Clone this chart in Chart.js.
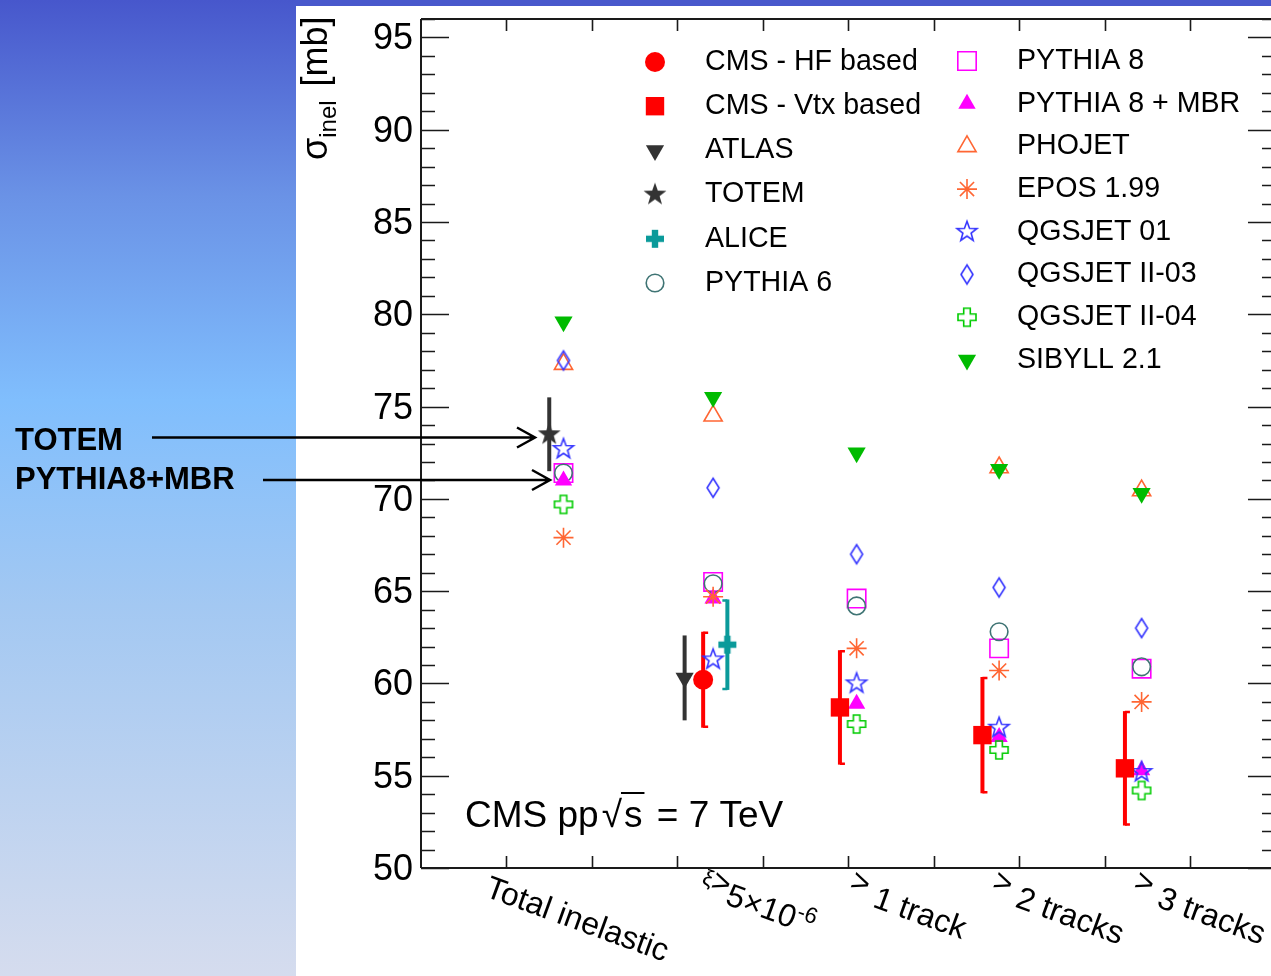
<!DOCTYPE html>
<html>
<head>
<meta charset="utf-8">
<script src="https://cdn.jsdelivr.net/npm/chart.js@4.4.1/dist/chart.umd.min.js"></script>
<style>
  html, body { margin: 0; padding: 0; overflow: hidden; background: #fff; }
  canvas { display: block; }
</style>
</head>
<body>
<canvas id="chart" width="1271" height="976"></canvas>
<script>
// ---- data -------------------------------------------------------------
// ^{..} = small raised run, ~{..} = raised run at full size
const categories = ['Total inelastic', '^{ξ}~{>}5×10^{-6}', '~{>} 1 track', '~{>} 2 tracks', '~{>} 3 tracks'];
const yTickValues = [50, 55, 60, 65, 70, 75, 80, 85, 90, 95];

// measurements (mb) and their total uncertainties
const cmsHF       = [null, 60.2, null, null, null];
const cmsHFErr    = [null, 2.6,  null, null, null];
const cmsVtx      = [null, null, 58.7, 57.2, 55.4];
const cmsVtxErr   = [null, null, 3.1,  3.15, 3.1];
const atlas       = [null, 60.3, null, null, null];
const atlasErr    = [null, 2.3,  null, null, null];
const totem       = [73.5, null, null, null, null];
const totemErr    = [2.0,  null, null, null, null];
const alice       = [null, 62.1, null, null, null];
const aliceErr    = [null, 2.45, null, null, null];

// model predictions (mb)
const pythia6     = [71.4, 65.4, 64.2, 62.8, 60.9];
const pythia8     = [71.4, 65.5, 64.6, 61.9, 60.8];
const pythia8mbr  = [71.0, 64.6, 58.9, 57.1, 55.3];
const phojet      = [77.3, 74.5, null, 71.7, 70.45];
const epos199     = [67.9, 64.7, 61.9, 60.7, 59.0];
const qgsjet01    = [72.7, 61.3, 60.0, 57.6, 55.2];
const qgsjetII03  = [77.5, 70.6, 67.0, 65.2, 63.0];
const qgsjetII04  = [69.7, null, 57.8, 56.4, 54.2];
const sibyll21    = [79.6, 75.5, 72.5, 71.6, 70.3];

// ---- layout / style ---------------------------------------------------
const FONT = "'Liberation Sans', Arial, Helvetica, sans-serif";
// side-by-side offsets (in category units) so overlapping entries stay readable
const modelShift = [0, 0.05, 0.057, 0.057, 0.057];
const dodge = { totem: -0.1, atlas: -0.15, cmsHF: -0.02, alice: 0.15, cmsVtx: -0.06 };

const COL = {
  red: '#ff0000', dark: '#333333', teal: '#0a9a9a', slate: '#3f7474',
  magenta: '#ff00ff', orange: '#ff6633', blue: '#3535ff', green: '#00cc00', sibyll: '#00bb00'
};

function makeMarker(size, paint) {
  const c = document.createElement('canvas');
  c.width = size; c.height = size;
  const g = c.getContext('2d');
  g.translate(size / 2, size / 2);
  paint(g);
  return c;
}
function starPath(g, R, r) {
  g.beginPath();
  for (let i = 0; i < 10; i++) {
    const a = -Math.PI / 2 + i * Math.PI / 5;
    const q = i % 2 ? r : R;
    g.lineTo(q * Math.cos(a), q * Math.sin(a));
  }
  g.closePath();
}
const markers = {
  openStar: makeMarker(26, g => { starPath(g, 10.5, 4.3); g.strokeStyle = COL.blue; g.lineWidth = 1.6; g.stroke(); }),
  fullStar: makeMarker(28, g => { starPath(g, 12, 4.8); g.fillStyle = COL.dark; g.fill(); }),
  openCross: makeMarker(24, g => {
    const a = 9, b = 3.3;
    g.beginPath();
    g.moveTo(-b, -a); g.lineTo(b, -a); g.lineTo(b, -b); g.lineTo(a, -b); g.lineTo(a, b); g.lineTo(b, b);
    g.lineTo(b, a); g.lineTo(-b, a); g.lineTo(-b, b); g.lineTo(-a, b); g.lineTo(-a, -b); g.lineTo(-b, -b);
    g.closePath();
    g.strokeStyle = COL.green; g.lineWidth = 1.6; g.stroke();
  }),
  fullPlus: makeMarker(24, g => { g.fillStyle = COL.teal; g.fillRect(-9, -3.2, 18, 6.4); g.fillRect(-3.2, -9, 6.4, 18); }),
  diamond: makeMarker(24, g => {
    g.beginPath(); g.moveTo(0, -9.5); g.lineTo(6, 0); g.lineTo(0, 9.5); g.lineTo(-6, 0); g.closePath();
    g.strokeStyle = COL.blue; g.lineWidth = 1.6; g.stroke();
  })
};

function toPoints(values, errors, shift) {
  const out = [];
  values.forEach((v, i) => {
    if (v == null) return;
    const s = Array.isArray(shift) ? shift[i] : shift;
    out.push({ x: i + 1 + s, y: v, err: errors ? errors[i] : null });
  });
  return out;
}
function series(label, values, errors, shift, style) {
  return Object.assign({ label, data: toPoints(values, errors, shift), showLine: false }, style);
}
const filled = (c) => ({ pointBackgroundColor: c, pointBorderColor: c, pointBorderWidth: 0 });
const open = (c) => ({ pointBackgroundColor: 'rgba(0,0,0,0)', pointBorderColor: c, pointBorderWidth: 1.6 });

const datasets = [
  series('CMS - HF based', cmsHF, cmsHFErr, dodge.cmsHF,
    Object.assign({ pointStyle: 'circle', pointRadius: 10, order: 0, errColor: COL.red, errCap: 1 }, filled(COL.red))),
  series('CMS - Vtx based', cmsVtx, cmsVtxErr, dodge.cmsVtx,
    Object.assign({ pointStyle: 'rect', pointRadius: 13, order: 0, errColor: COL.red, errCap: 1 }, filled(COL.red))),
  series('ATLAS', atlas, atlasErr, dodge.atlas,
    Object.assign({ pointStyle: 'triangle', pointRotation: 180, pointRadius: 10.5, order: 0, errColor: COL.dark }, filled(COL.dark))),
  series('TOTEM', totem, totemErr, dodge.totem,
    Object.assign({ pointStyle: markers.fullStar, pointRadius: 12, order: 0, errColor: COL.dark }, filled(COL.dark))),
  series('ALICE', alice, aliceErr, dodge.alice,
    Object.assign({ pointStyle: markers.fullPlus, pointRadius: 9, order: 0, errColor: COL.teal, errCap: -1 }, filled(COL.teal))),
  series('PYTHIA 6', pythia6, null, modelShift,
    Object.assign({ pointStyle: 'circle', pointRadius: 8.8, order: 7 }, open(COL.slate))),
  series('PYTHIA 8', pythia8, null, modelShift,
    Object.assign({ pointStyle: 'rect', pointRadius: 13, order: 8 }, open(COL.magenta))),
  series('PYTHIA 8 + MBR', pythia8mbr, null, modelShift,
    Object.assign({ pointStyle: 'triangle', pointRadius: 10, order: 5 }, filled(COL.magenta))),
  series('PHOJET', phojet, null, modelShift,
    Object.assign({ pointStyle: 'triangle', pointRadius: 10.5, order: 6 }, open(COL.orange))),
  series('EPOS 1.99', epos199, null, modelShift,
    Object.assign({ pointStyle: 'star', pointRadius: 10, order: 3 }, open(COL.orange))),
  series('QGSJET 01', qgsjet01, null, modelShift,
    Object.assign({ pointStyle: markers.openStar, pointRadius: 10, order: 2 }, open(COL.blue))),
  series('QGSJET II-03', qgsjetII03, null, modelShift,
    Object.assign({ pointStyle: markers.diamond, pointRadius: 9, order: 4 }, open(COL.blue))),
  series('QGSJET II-04', qgsjetII04, null, modelShift,
    Object.assign({ pointStyle: markers.openCross, pointRadius: 9, order: 4 }, open(COL.green))),
  series('SIBYLL 2.1', sibyll21, null, modelShift,
    Object.assign({ pointStyle: 'triangle', pointRotation: 180, pointRadius: 10.5, order: 1 }, filled(COL.sibyll)))
];

// ---- plugins ------------------------------------------------------------
const backdrop = {
  id: 'backdrop',
  beforeDraw(chart) {
    const ctx = chart.ctx, W = chart.width, H = chart.height;
    ctx.save();
    ctx.fillStyle = '#ffffff';
    ctx.fillRect(0, 0, W, H);
    const gr = ctx.createLinearGradient(0, 0, 0, H);
    gr.addColorStop(0, '#4757cc');
    gr.addColorStop(0.2, '#6a92e6');
    gr.addColorStop(0.41, '#80befd');
    gr.addColorStop(0.62, '#a3c8f2');
    gr.addColorStop(1, '#d5dcee');
    ctx.fillStyle = gr;
    ctx.fillRect(0, 0, 296, H);
    ctx.fillStyle = '#4858cc';
    ctx.fillRect(296, 0, W - 296, 6);
    ctx.restore();
  }
};

const frame = {
  id: 'frame',
  beforeDatasetsDraw(chart) {
    const { ctx, chartArea: a, scales: { x, y } } = chart;
    const xl = x.getPixelForValue(0), xr = x.getPixelForValue(6);
    ctx.save();
    ctx.strokeStyle = '#1a1a1a';
    ctx.lineWidth = 2;
    ctx.beginPath();
    ctx.moveTo(xl, a.top); ctx.lineTo(xr, a.top);
    ctx.moveTo(xl, a.top); ctx.lineTo(xl, a.bottom);
    ctx.moveTo(xl, a.bottom); ctx.lineTo(xr, a.bottom);
    ctx.stroke();
    ctx.lineWidth = 1.6;
    ctx.beginPath();
    for (let v = 50; v <= 96; v++) {
      const py = Math.round(y.getPixelForValue(v)) + 0.5;
      const len = v % 5 === 0 ? 28 : 14;
      ctx.moveTo(xl, py); ctx.lineTo(xl + len, py);
      ctx.moveTo(xr, py); ctx.lineTo(xr - len, py);
    }
    for (let k = 1; k < 10; k++) {
      const px = Math.round(x.getPixelForValue(k * 0.6)) + 0.5;
      ctx.moveTo(px, a.bottom); ctx.lineTo(px, a.bottom - 12);
      ctx.moveTo(px, a.top); ctx.lineTo(px, a.top + 12);
    }
    ctx.stroke();
    ctx.restore();
  }
};

const errorBars = {
  id: 'errorBars',
  beforeDatasetsDraw(chart) {
    const ctx = chart.ctx, ys = chart.scales.y;
    chart.data.datasets.forEach((ds, di) => {
      if (!ds.errColor) return;
      const meta = chart.getDatasetMeta(di);
      meta.data.forEach((el, i) => {
        const p = ds.data[i];
        if (p.err == null) return;
        const top = ys.getPixelForValue(p.y + p.err);
        const bot = ys.getPixelForValue(p.y - p.err);
        ctx.save();
        ctx.strokeStyle = ds.errColor;
        ctx.lineWidth = 4;
        ctx.beginPath();
        ctx.moveTo(el.x, top); ctx.lineTo(el.x, bot);
        ctx.stroke();
        if (ds.errCap) {
          ctx.lineWidth = 2.5;
          ctx.beginPath();
          ctx.moveTo(el.x, top + 1); ctx.lineTo(el.x + ds.errCap * 5, top + 1);
          ctx.moveTo(el.x, bot - 1); ctx.lineTo(el.x + ds.errCap * 5, bot - 1);
          ctx.stroke();
        }
        ctx.restore();
      });
    });
  }
};

// rich text runs: ^{..} small raised, ~{..} full-size raised
function parseRich(s) {
  const parts = [];
  const re = /\^\{([^}]*)\}|~\{([^}]*)\}|([^^~]+)/g;
  let m;
  while ((m = re.exec(s))) {
    if (m[1] !== undefined) parts.push({ t: m[1], scale: 0.7, rise: 0.36 });
    else if (m[2] !== undefined) parts.push({ t: m[2], scale: 1, rise: 0.27 });
    else parts.push({ t: m[3], scale: 1, rise: 0 });
  }
  return parts;
}
function drawRich(ctx, text, x, y, angleDeg, size) {
  ctx.save();
  ctx.translate(x, y);
  ctx.rotate(angleDeg * Math.PI / 180);
  ctx.textAlign = 'left';
  ctx.textBaseline = 'alphabetic';
  let cx = 0;
  for (const p of parseRich(text)) {
    ctx.font = `${size * p.scale}px ${FONT}`;
    ctx.fillText(p.t, cx, -size * p.rise);
    cx += ctx.measureText(p.t).width;
  }
  ctx.restore();
}

// where each rotated category label starts, relative to its category (px)
const labelStart = [[-80, 28], [-9, 26], [-3, 29], [-3, 29], [-4, 29]];

const texts = {
  id: 'texts',
  afterDraw(chart) {
    const { ctx, chartArea: a, scales: { x, y } } = chart;
    ctx.save();
    ctx.fillStyle = '#000';

    // category labels along the bottom
    categories.forEach((c, i) => {
      const px = x.getPixelForValue(i + 1);
      drawRich(ctx, c, px + labelStart[i][0], a.bottom + labelStart[i][1], 20, 32);
    });

    // y-axis title: sigma_inel [mb]
    ctx.save();
    ctx.translate(327, 160);
    ctx.rotate(-Math.PI / 2);
    ctx.textBaseline = 'alphabetic';
    ctx.textAlign = 'left';
    let tx = 0;
    ctx.font = `36px ${FONT}`;
    ctx.fillText('σ', tx, 0);
    tx += ctx.measureText('σ').width;
    ctx.font = `24px ${FONT}`;
    ctx.fillText('inel', tx, 9);
    tx += ctx.measureText('inel').width + 14;
    ctx.font = `36px ${FONT}`;
    ctx.fillText('[mb]', tx, 0);
    ctx.restore();

    // energy tag
    ctx.font = `37px ${FONT}`;
    ctx.textBaseline = 'alphabetic';
    ctx.textAlign = 'left';
    let ex = 465;
    const ey = 827;
    ctx.fillText('CMS pp', ex, ey);
    ex += ctx.measureText('CMS pp').width + 3;
    ctx.fillText('√', ex, ey);
    const sx = ex + ctx.measureText('√').width + 2;
    ctx.fillText('s', sx, ey);
    const sW = ctx.measureText('s').width;
    ctx.lineWidth = 2;
    ctx.strokeStyle = '#000';
    ctx.beginPath();
    ctx.moveTo(sx - 3, ey - 34); ctx.lineTo(sx + sW + 2, ey - 34);
    ctx.stroke();
    ctx.fillText(' = 7 TeV', sx + sW + 4, ey);

    // legend, two columns
    const cols = [
      { mx: 655, tx: 705, y0: 62, dy: 44.2, from: 0, to: 6 },
      { mx: 967, tx: 1017, y0: 61, dy: 42.7, from: 6, to: 14 }
    ];
    ctx.font = `28.6px ${FONT}`;
    ctx.textBaseline = 'middle';
    cols.forEach(col => {
      for (let i = col.from; i < col.to; i++) {
        const ds = chart.data.datasets[i];
        const ly = col.y0 + (i - col.from) * col.dy;
        ctx.save();
        ctx.fillStyle = ds.pointBackgroundColor;
        ctx.strokeStyle = ds.pointBorderColor;
        ctx.lineWidth = ds.pointBorderWidth;
        Chart.helpers.drawPoint(ctx, {
          pointStyle: ds.pointStyle, rotation: ds.pointRotation || 0,
          radius: ds.pointRadius, borderWidth: ds.pointBorderWidth
        }, col.mx, ly);
        ctx.restore();
        ctx.fillStyle = '#000';
        ctx.fillText(ds.label, col.tx, ly);
      }
    });

    // side annotations with arrows
    ctx.font = `bold 31px ${FONT}`;
    ctx.textBaseline = 'alphabetic';
    ctx.fillText('TOTEM', 15, 450);
    ctx.fillText('PYTHIA8+MBR', 15, 489);
    const arrow = (x0, x1, yy) => {
      ctx.beginPath();
      ctx.moveTo(x0, yy); ctx.lineTo(x1, yy);
      ctx.moveTo(x1 - 18, yy - 10); ctx.lineTo(x1, yy); ctx.lineTo(x1 - 18, yy + 10);
      ctx.stroke();
    };
    ctx.strokeStyle = '#000';
    ctx.lineWidth = 2.5;
    arrow(152, 535, 437.5);
    arrow(263, 550, 480);
    ctx.restore();
  }
};

new Chart(document.getElementById('chart'), {
  type: 'scatter',
  data: { datasets },
  options: {
    responsive: false,
    devicePixelRatio: 1,
    animation: false,
    events: [],
    layout: { autoPadding: false, padding: { top: 19, left: 0, right: 0, bottom: 0 } },
    plugins: { legend: { display: false }, tooltip: { enabled: false } },
    scales: {
      x: {
        type: 'linear', min: 0, max: 5.965,
        ticks: { display: false },
        grid: { display: false, drawTicks: false },
        border: { display: false },
        afterFit(s) { s.height = 108; }
      },
      y: {
        type: 'linear', min: 50, max: 96,
        ticks: {
          stepSize: 5, includeBounds: false, padding: 8, color: '#000', labelOffset: 2,
          font: { family: FONT, size: 36, lineHeight: 0.4 },
          callback: (v) => (yTickValues.includes(v) ? String(v) : '')
        },
        grid: { display: false, drawTicks: false },
        border: { display: false },
        afterFit(s) { s.width = 421; }
      }
    }
  },
  plugins: [backdrop, frame, errorBars, texts]
});
</script>
</body>
</html>
